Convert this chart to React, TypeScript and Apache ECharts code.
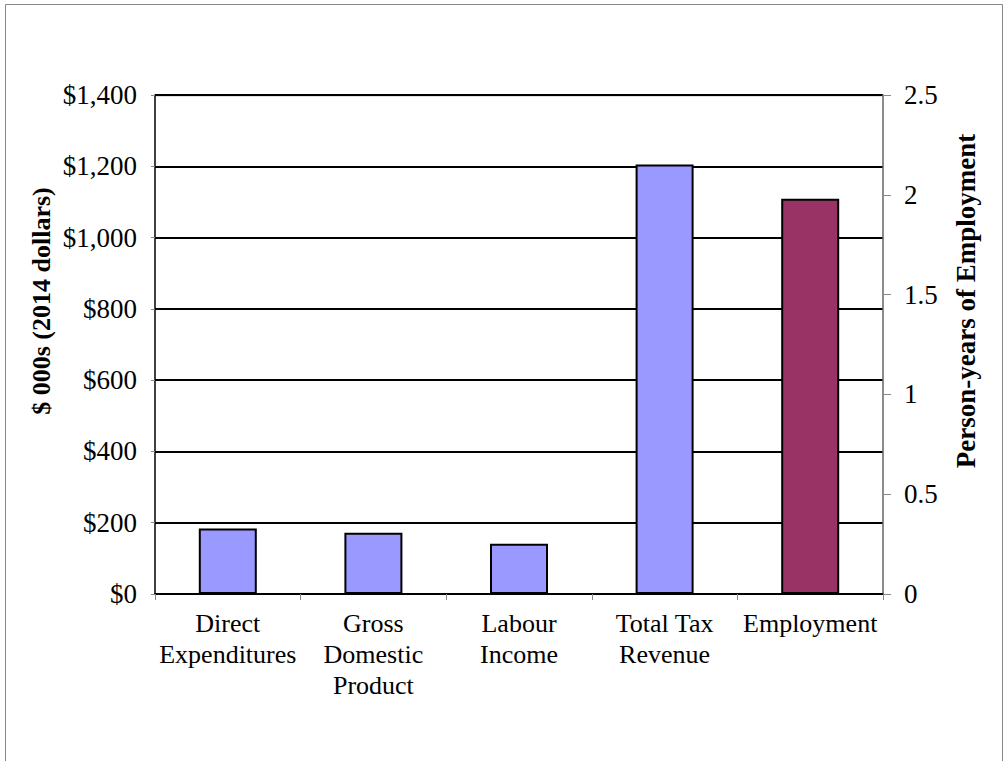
import React, { useEffect, useRef } from "react";
import * as echarts from "echarts";

const categories = [
  "Direct\nExpenditures",
  "Gross\nDomestic\nProduct",
  "Labour\nIncome",
  "Total Tax\nRevenue",
  "Employment",
];
const dollarValues = [184, 172, 141, 1205, null];
const employmentValues = [null, null, null, null, 1.98];
const leftTicks = [0, 1400, 200];
const rightTicks = [0, 2.5, 0.5];
const leftTitle = "$ 000s (2014 dollars)";
const rightTitle = "Person-years of Employment";

export default function App() {
  const ref = useRef<HTMLDivElement>(null);
  useEffect(() => {
    document.body.style.margin = "0";
    const chart = echarts.init(ref.current!, null, { renderer: "svg" });
    const font = "'Liberation Serif', 'Times New Roman', serif";
    chart.setOption({
      animation: false,
      textStyle: { fontFamily: font },
      graphic: [
        {
          type: "rect",
          shape: { x: 5.5, y: 4.5, width: 997, height: 770 },
          style: { fill: "none", stroke: "#888", lineWidth: 1 },
          silent: true,
        },
        {
          type: "line",
          shape: { x1: 155, y1: 95.5, x2: 883, y2: 95.5 },
          style: { stroke: "#888", lineWidth: 1.5 },
          silent: true,
        },
        {
          type: "text",
          x: 41,
          y: 301,
          rotation: Math.PI / 2,
          style: {
            text: leftTitle,
            fontSize: 26,
            fontWeight: "bold",
            fontFamily: font,
            fill: "#000",
            align: "center",
            verticalAlign: "middle",
          },
          silent: true,
        },
        {
          type: "text",
          x: 966,
          y: 301,
          rotation: Math.PI / 2,
          style: {
            text: rightTitle,
            fontSize: 27,
            fontWeight: "bold",
            fontFamily: font,
            fill: "#000",
            align: "center",
            verticalAlign: "middle",
          },
          silent: true,
        },
      ],
      grid: { left: 155, right: 121, top: 95, bottom: 167, containLabel: false },
      xAxis: {
        type: "category",
        data: categories,
        axisLine: { lineStyle: { color: "#000", width: 1.5 } },
        axisTick: { show: true, length: 6, lineStyle: { color: "#888" } },
        axisLabel: {
          color: "#000",
          fontSize: 26,
          fontFamily: font,
          lineHeight: 31,
          margin: 14,
          interval: 0,
        },
      },
      yAxis: [
        {
          type: "value",
          min: leftTicks[0],
          max: leftTicks[1],
          interval: leftTicks[2],
          position: "left",
          axisLine: { show: true, lineStyle: { color: "#000", width: 1.5 } },
          axisTick: { show: true, length: 4, lineStyle: { color: "#888" } },
          axisLabel: {
            color: "#000",
            fontSize: 27,
            fontFamily: font,
            margin: 18,
            formatter: (v: number) => "$" + v.toLocaleString("en-US"),
          },
          splitLine: { show: true, lineStyle: { color: "#000", width: 2 } },
        },
        {
          type: "value",
          min: rightTicks[0],
          max: rightTicks[1],
          interval: rightTicks[2],
          position: "right",
          axisLine: { show: true, lineStyle: { color: "#666", width: 1.5 } },
          axisTick: { show: true, length: 8, lineStyle: { color: "#888" } },
          axisLabel: {
            color: "#000",
            fontSize: 27,
            fontFamily: font,
            margin: 21,
          },
          splitLine: { show: false },
        },
      ],
      series: [
        {
          type: "bar",
          yAxisIndex: 0,
          data: dollarValues,
          barWidth: 58,
          barGap: "-100%",
          itemStyle: { color: "#9999FF", borderColor: "#000", borderWidth: 2 },
        },
        {
          type: "bar",
          yAxisIndex: 1,
          data: employmentValues,
          barWidth: 58,
          barGap: "-100%",
          itemStyle: { color: "#993366", borderColor: "#000", borderWidth: 2 },
        },
      ],
    });
    return () => chart.dispose();
  }, []);
  return <div ref={ref} style={{ width: 1004, height: 761 }} />;
}
